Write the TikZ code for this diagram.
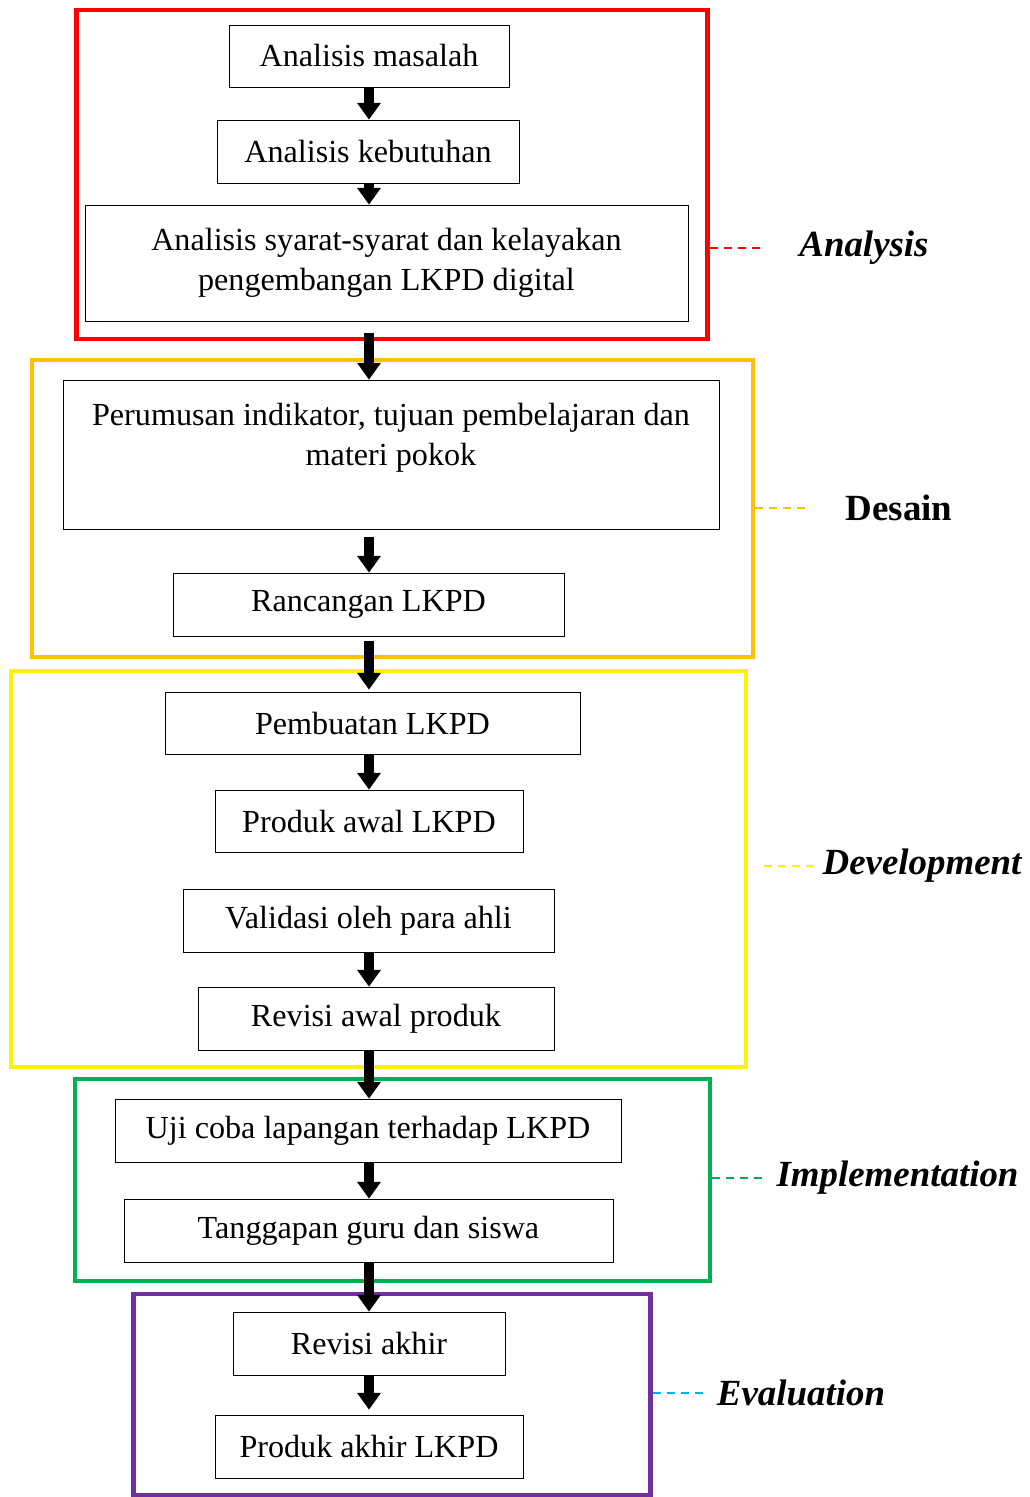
\documentclass[tikz,border=0pt]{standalone}
\usepackage{fontspec}
\setmainfont{Liberation Serif}
\usetikzlibrary{arrows.meta}

\definecolor{orangeF}{HTML}{FFC000}
\definecolor{greenF}{HTML}{00B050}
\definecolor{purpleF}{HTML}{7030A0}
\definecolor{blueD}{HTML}{00B0F0}

\tikzset{
  box/.style={draw,thin,align=center,font=\fontsize{18.3}{22.7}\selectfont},
  frame/.style={draw,line width=2.3pt},
  blockarrow/.style={line width=5.7pt,-{Triangle[length=9.6pt,width=13pt]}},
  phase/.style={font=\fontsize{21}{25}\selectfont\bfseries\itshape},
  tick/.style={dashed,line width=0.6pt,dash pattern=on 4.5pt off 3.4pt}
}

\begin{document}
\begin{tikzpicture}[x=0.02cm,y=-0.02cm]
  \useasboundingbox (0,0) rectangle (1029,1497);
  % phase frames
  \node[frame,draw=red,line width=2.8pt,minimum width=12.64cm,minimum height=6.58cm] (fAna) at (392,174.5) {};
  \node[frame,draw=orangeF,minimum width=14.42cm,minimum height=5.94cm] (fDes) at (392.5,508.5) {};
  \node[frame,draw=yellow,minimum width=14.7cm,minimum height=7.92cm] (fDev) at (378.5,869) {};
  \node[frame,draw=greenF,minimum width=12.7cm,minimum height=4.04cm] (fImp) at (392.5,1180) {};
  \node[frame,draw=purpleF,line width=2.8pt,minimum width=10.36cm,minimum height=4.02cm] (fEva) at (392,1394.5) {};

  % steps
  \node[box,minimum width=5.6cm,minimum height=1.24cm] (b1) at (369,56) {Analisis masalah};
  \node[box,minimum width=6.04cm,minimum height=1.26cm] (b2) at (368,151.5) {Analisis kebutuhan};
  \node[box,minimum width=12.06cm,minimum height=2.32cm] (b3) at (386.5,263) {Analisis syarat-syarat dan kelayakan\\pengembangan LKPD digital};
  \node[box,minimum width=13.12cm,minimum height=2.98cm] (b4) at (391,454.5) {Perumusan indikator, tujuan pembelajaran dan\\materi pokok\\\mbox{}};
  \node[box,minimum width=7.82cm,minimum height=1.26cm] (b5) at (368.5,604.5) {Rancangan LKPD};
  \node[box,minimum width=8.3cm,minimum height=1.24cm] (b6) at (372.5,723) {Pembuatan LKPD};
  \node[box,minimum width=6.16cm,minimum height=1.24cm] (b7) at (369,821) {Produk awal LKPD};
  \node[box,minimum width=7.42cm,minimum height=1.26cm] (b8) at (368.5,920.5) {Validasi oleh para ahli};
  \node[box,minimum width=7.12cm,minimum height=1.26cm] (b9) at (376,1018.5) {Revisi awal produk};
  \node[box,minimum width=10.12cm,minimum height=1.26cm] (b10) at (368,1130.5) {Uji coba lapangan terhadap LKPD};
  \node[box,minimum width=9.78cm,minimum height=1.26cm] (b11) at (368.5,1230.5) {Tanggapan guru dan siswa};
  \node[box,minimum width=5.44cm,minimum height=1.26cm] (b12) at (369,1343.5) {Revisi akhir};
  \node[box,minimum width=6.16cm,minimum height=1.26cm] (b13) at (369,1446.5) {Produk akhir LKPD};

  % arrows
  \draw[blockarrow] (b1.south) -- (b2.north -| b1.south);
  \draw[blockarrow] (b2.south -| b1.south) -- (b3.north -| b1.south);
  \draw[blockarrow,shorten <=0.24cm] (b3.south -| b1.south) -- (b4.north -| b1.south);
  \draw[blockarrow,shorten <=0.16cm] (b4.south -| b1.south) -- (b5.north -| b1.south);
  \draw[blockarrow,shorten <=0.1cm,shorten >=0.04cm] (b5.south -| b1.south) -- (b6.north -| b1.south);
  \draw[blockarrow] (b6.south -| b1.south) -- (b7.north -| b1.south);
  \draw[blockarrow] (b8.south -| b1.south) -- (b9.north -| b1.south);
  \draw[blockarrow] (b9.south -| b1.south) -- (b10.north -| b1.south);
  \draw[blockarrow] (b10.south -| b1.south) -- (b11.north -| b1.south);
  \draw[blockarrow] (b11.south -| b1.south) -- (b12.north -| b1.south);
  \draw[blockarrow,shorten >=0.1cm] (b12.south) -- (b13.north);

  % phase labels
  \node[phase] (lAna) at (864,248) {Analysis};
  \node[phase,font=\fontsize{21}{25}\selectfont\bfseries] (lDes) at (899,508) {Desain};
  \node[phase] (lDev) at (922,866) {Development};
  \node[phase] (lImp) at (897.5,1178) {Implementation};
  \node[phase] (lEva) at (801,1393) {Evaluation};
  \draw[tick,red,shorten >=0.6cm] (fAna.east |- lAna) -- (lAna.west);
  \draw[tick,orangeF,shorten >=0.64cm] (fDes.east |- lDes) -- (lDes.west);
  \draw[tick,yellow,shorten <=0.32cm,shorten >=0.02cm] (fDev.east |- lDev) -- (lDev.west);
  \draw[tick,greenF,shorten >=0.12cm] (fImp.east |- lImp) -- (lImp.west);
  \draw[tick,blueD,shorten >=0.12cm] (fEva.east |- lEva) -- (lEva.west);
\end{tikzpicture}
\end{document}
